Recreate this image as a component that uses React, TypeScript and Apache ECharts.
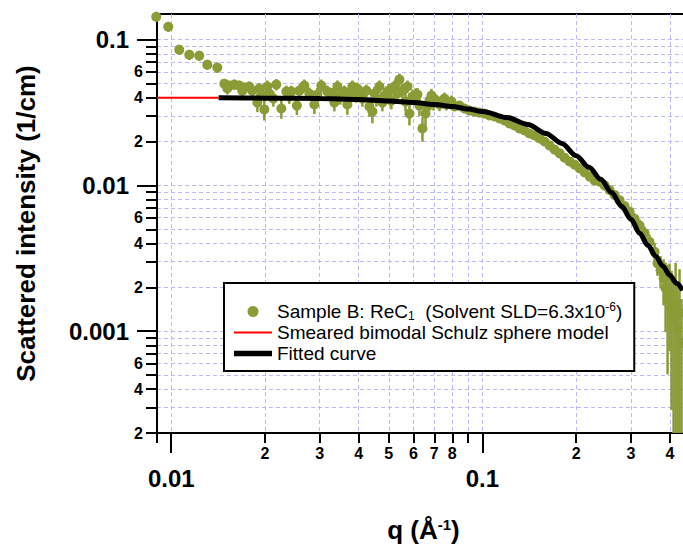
import React, { useEffect, useRef } from 'react';
import * as echarts from 'echarts';

const GREEN = '#8b9b36';
const FONT = '"Liberation Sans", Arial, Helvetica, sans-serif';

const X_MIN = 0.009;
const X_MAX = 0.5;
const Y_MIN = 0.0002;
const Y_MAX = 0.15;

// Measured data: q (1/Å), scattered intensity (1/cm), relative error
const qValues = [
  0.00895, 0.00978, 0.01061, 0.01143, 0.0123, 0.01306, 0.01406, 0.01481, 0.01537, 0.01595,
  0.01654, 0.01717, 0.01781, 0.01821, 0.01891, 0.01919, 0.01991, 0.02066, 0.02176, 0.02258,
  0.02343, 0.02431, 0.02533, 0.02677, 0.02778, 0.02883, 0.03036, 0.03174, 0.03294, 0.03418,
  0.03494, 0.036, 0.0368, 0.0382, 0.03934, 0.04022, 0.04113, 0.04236, 0.04332, 0.04429,
  0.04562, 0.04665, 0.04841, 0.04987, 0.05098, 0.05212, 0.05409, 0.05531, 0.05656, 0.05826,
  0.05956, 0.06091, 0.06272, 0.06415, 0.0656, 0.06755, 0.06959, 0.07115, 0.07274, 0.07438,
  0.07662, 0.07834, 0.08128, 0.08433, 0.08751, 0.09082, 0.09425, 0.09781, 0.1015, 0.1053,
  0.1093, 0.1134, 0.1177, 0.1221, 0.1267, 0.1315, 0.1365, 0.1416, 0.147, 0.1525,
  0.1583, 0.1642, 0.1704, 0.1769, 0.1835, 0.1905, 0.1976, 0.2051, 0.2128, 0.2209,
  0.2292, 0.2378, 0.2468, 0.2561, 0.2657, 0.2758, 0.2862, 0.297, 0.3082, 0.3198,
  0.3318, 0.3443, 0.3573, 0.365, 0.3735, 0.3819, 0.3875, 0.3933, 0.3992, 0.4051,
  0.4112, 0.4174, 0.4236, 0.4298, 0.4362,
  0.01514, 0.01692, 0.01948, 0.02036, 0.02128, 0.02395, 0.0258, 0.02947, 0.03343, 0.03735,
  0.03963, 0.04495, 0.0477, 0.0533, 0.0574, 0.06181, 0.06657, 0.06857, 0.07549, 0.0795,
];
const intensity = [
  0.1437, 0.1227, 0.0854, 0.0789, 0.0777, 0.0674, 0.0643, 0.0499, 0.0484, 0.0492,
  0.0484, 0.0469, 0.0477, 0.0447, 0.037, 0.0462, 0.0332, 0.0427, 0.0492, 0.0337,
  0.044, 0.044, 0.0353, 0.0484, 0.0427, 0.0359, 0.0484, 0.044, 0.042, 0.0477,
  0.0407, 0.044, 0.0359, 0.0477, 0.0414, 0.044, 0.0394, 0.0447, 0.0348, 0.0321,
  0.0394, 0.0477, 0.0414, 0.0447, 0.0382, 0.0477, 0.0532, 0.0447, 0.0376, 0.0311,
  0.0407, 0.0414, 0.0353, 0.0246, 0.0311, 0.0382, 0.037, 0.0382, 0.0359, 0.0376,
  0.0359, 0.0364, 0.0348, 0.0353, 0.0337, 0.0326, 0.0321, 0.0316, 0.0311, 0.0302,
  0.0297, 0.0288, 0.0279, 0.0266, 0.0258, 0.0246, 0.0238, 0.0227, 0.022, 0.021,
  0.02, 0.0188, 0.0176, 0.0166, 0.0155, 0.0146, 0.0139, 0.0131, 0.0123, 0.0115,
  0.0108, 0.0106, 0.01, 0.0093, 0.0086, 0.0079, 0.0072, 0.0066, 0.0059, 0.0053,
  0.0047, 0.0041, 0.0035, 0.00292, 0.00262, 0.00231, 0.00197, 0.00168, 0.00182, 0.00144,
  0.00123, 0.00155, 0.00105, 0.00133, 0.00083,
  0.0462, 0.0447, 0.042, 0.0477, 0.0394, 0.0407, 0.0447, 0.042, 0.037, 0.0427,
  0.0462, 0.0427, 0.037, 0.0427, 0.0477, 0.042, 0.0348, 0.0414, 0.0394, 0.0376,
];
const relError = [
  0.08, 0.08, 0.08, 0.08, 0.08, 0.08, 0.08, 0.08, 0.08, 0.08,
  0.08, 0.08, 0.08, 0.09, 0.14, 0.09, 0.16, 0.1, 0.09, 0.15,
  0.1, 0.1, 0.14, 0.1, 0.1, 0.14, 0.1, 0.1, 0.11, 0.1,
  0.12, 0.1, 0.15, 0.1, 0.11, 0.1, 0.12, 0.1, 0.15, 0.17,
  0.12, 0.1, 0.12, 0.11, 0.13, 0.1, 0.1, 0.11, 0.14, 0.17,
  0.12, 0.12, 0.15, 0.19, 0.17, 0.13, 0.12, 0.1, 0.1, 0.09,
  0.09, 0.08, 0.07, 0.07, 0.07, 0.06, 0.06, 0.06, 0.05, 0.05,
  0.05, 0.05, 0.05, 0.05, 0.05, 0.05, 0.05, 0.05, 0.05, 0.05,
  0.05, 0.05, 0.05, 0.05, 0.05, 0.05, 0.05, 0.05, 0.05, 0.06,
  0.06, 0.06, 0.06, 0.07, 0.07, 0.07, 0.08, 0.08, 0.09, 0.1,
  0.11, 0.12, 0.15, 0.18, 0.25, 0.35, 0.5, 0.7, 0.6, 0.8,
  0.9, 0.9, 1.0, 1.0, 1.0,
  0.09, 0.1, 0.1, 0.1, 0.12, 0.11, 0.1, 0.11, 0.13, 0.1,
  0.1, 0.11, 0.13, 0.11, 0.1, 0.11, 0.13, 0.11, 0.1, 0.1,
];

// Fitted curve
const fitQ = [
  0.0142, 0.02, 0.03, 0.04, 0.05, 0.06, 0.07, 0.08, 0.09, 0.1, 0.12, 0.14, 0.16, 0.18,
  0.2, 0.22, 0.24, 0.26, 0.28, 0.3, 0.32, 0.34, 0.36, 0.38, 0.4, 0.42, 0.44,
];
const fitI = [
  0.04, 0.0397, 0.0394, 0.0388, 0.0379, 0.037, 0.0359, 0.0348, 0.0334, 0.0321, 0.0292, 0.0262,
  0.0227, 0.0194, 0.016, 0.0133, 0.011, 0.00895, 0.00718, 0.00585, 0.00469, 0.00388, 0.00327,
  0.00279, 0.00242, 0.00213, 0.00191,
];

// Smeared model (visible part)
const smearQ = [0.009, 0.0142];
const smearI = [0.04, 0.04];

// Axis ticks
const xMinorTicks = [0.009, 0.02, 0.03, 0.04, 0.05, 0.06, 0.07, 0.08, 0.09, 0.2, 0.3, 0.4, 0.5];
const xMinorLabels = [0.02, 0.03, 0.04, 0.05, 0.06, 0.07, 0.08, 0.2, 0.3, 0.4];
const xMajorTicks = [0.01, 0.1];
const yMinorTicks = [
  0.0002, 0.0003, 0.0004, 0.0005, 0.0006, 0.0007, 0.0008, 0.0009,
  0.002, 0.003, 0.004, 0.005, 0.006, 0.007, 0.008, 0.009,
  0.02, 0.03, 0.04, 0.05, 0.06, 0.07, 0.08, 0.09,
];
const yMinorLabels = [0.0002, 0.0004, 0.0006, 0.002, 0.004, 0.006, 0.02, 0.04, 0.06];
const yMajorTicks = [0.001, 0.01, 0.1];

const SAMPLE = 'Sample B: ReC1 (Solvent SLD=6.3x10-6)';
const SMEARED = 'Smeared bimodal Schulz sphere model';
const FITTED = 'Fitted curve';

const leadDigit = (v: number) =>
  String(Math.round(v / Math.pow(10, Math.floor(Math.log10(v) + 1e-9))));
const majorLabel = (v: number) => (v < 0.005 ? '0.001' : v < 0.05 ? '0.01' : '0.1');

const GRIDLINE = { color: '#b8b8fa', width: 1, type: [4, 3] as any };
const AXIS_BLACK = { color: '#000', width: 2 };

export default function App() {
  const ref = useRef<HTMLDivElement>(null);

  useEffect(() => {
    if (!ref.current) return;
    const chart = echarts.init(ref.current, undefined, { renderer: 'svg' });

    const scatterData = qValues.map((q, i) => [q, intensity[i]]);
    const errData = qValues.map((q, i) => [
      q,
      Math.max(intensity[i] * (1 - relError[i]), Y_MIN),
      intensity[i] * (1 + relError[i]),
    ]);
    const fitData = fitQ.map((q, i) => [q, fitI[i]]);
    const smearData = smearQ.map((q, i) => [q, smearI[i]]);

    const gridRect = { left: 157, top: 14, right: -17, bottom: 112 };

    const labelBase = { fontFamily: FONT, fontWeight: 'bold' as const, color: '#000' };

    const legendText = (fs: number, lh: number) => ({
      fontFamily: FONT,
      fontSize: fs,
      color: '#000',
      lineHeight: lh,
    });

    const option: any = {
      animation: false,
      backgroundColor: '#fff',
      grid: [
        {
          ...gridRect,
          show: true,
          borderColor: '#000',
          borderWidth: 2,
          backgroundColor: 'transparent',
          containLabel: false,
          outerBoundsMode: 'none',
        },
        { ...gridRect, show: false, containLabel: false, outerBoundsMode: 'none' },
      ],
      xAxis: [
        {
          type: 'log',
          logBase: 10,
          gridIndex: 0,
          position: 'bottom',
          min: X_MIN,
          max: X_MAX,
          axisLine: { show: true, onZero: false, lineStyle: AXIS_BLACK },
          axisTick: {
            show: true,
            inside: false,
            length: 10,
            customValues: xMinorTicks,
            lineStyle: AXIS_BLACK,
          },
          axisLabel: {
            show: true,
            customValues: xMinorLabels,
            formatter: leadDigit,
            margin: 12,
            fontSize: 16,
            ...labelBase,
          },
          splitLine: { show: true, lineStyle: GRIDLINE },
          minorTick: { show: false },
          minorSplitLine: { show: false },
        },
        {
          type: 'log',
          logBase: 10,
          gridIndex: 1,
          position: 'bottom',
          min: X_MIN,
          max: X_MAX,
          axisLine: { show: false },
          axisTick: {
            show: true,
            inside: false,
            length: 20,
            customValues: xMajorTicks,
            lineStyle: AXIS_BLACK,
          },
          axisLabel: {
            show: true,
            customValues: xMajorTicks,
            formatter: (v: number) => (v < 0.05 ? '0.01' : '0.1'),
            margin: 33,
            fontSize: 24,
            ...labelBase,
          },
          splitLine: { show: true, lineStyle: GRIDLINE },
          name: '{a|q (Å}{s|-1}{a|)}',
          nameLocation: 'middle',
          nameGap: 84,
          nameTextStyle: {
            ...labelBase,
            fontSize: 26,
            padding: [0, 10, 0, 0],
            rich: {
              a: { ...labelBase, fontSize: 26, lineHeight: 26 },
              s: { ...labelBase, fontSize: 15, lineHeight: 15, verticalAlign: 'top' },
            },
          },
        },
      ],
      yAxis: [
        {
          type: 'log',
          logBase: 10,
          gridIndex: 0,
          position: 'left',
          min: Y_MIN,
          max: Y_MAX,
          axisLine: { show: true, onZero: false, lineStyle: AXIS_BLACK },
          axisTick: {
            show: true,
            inside: false,
            length: 11,
            customValues: yMinorTicks,
            lineStyle: AXIS_BLACK,
          },
          axisLabel: {
            show: true,
            customValues: yMinorLabels,
            formatter: leadDigit,
            margin: 14,
            fontSize: 16,
            ...labelBase,
          },
          splitLine: { show: true, lineStyle: GRIDLINE },
          minorTick: { show: false },
          minorSplitLine: { show: false },
        },
        {
          type: 'log',
          logBase: 10,
          gridIndex: 1,
          position: 'left',
          min: Y_MIN,
          max: Y_MAX,
          axisLine: { show: false },
          axisTick: {
            show: true,
            inside: false,
            length: 20,
            customValues: yMajorTicks,
            lineStyle: AXIS_BLACK,
          },
          axisLabel: {
            show: true,
            customValues: yMajorTicks,
            formatter: majorLabel,
            margin: 28,
            fontSize: 24,
            ...labelBase,
          },
          splitLine: { show: true, lineStyle: GRIDLINE },
          name: 'Scattered intensity (1/cm)',
          nameLocation: 'middle',
          nameRotate: 90,
          nameGap: 118,
          nameTextStyle: { ...labelBase, fontSize: 26 },
        },
      ],
      legend: {
        show: true,
        orient: 'vertical',
        left: 224,
        top: 283,
        padding: [18, 12, 7, 10],
        itemGap: 0,
        itemWidth: 38,
        itemHeight: 11,
        backgroundColor: '#fff',
        borderColor: '#000',
        borderWidth: 2,
        borderRadius: 0,
        selectedMode: false,
        itemStyle: { borderWidth: 0 },
        textStyle: {
          ...legendText(19, 21),
          rich: {
            t: legendText(19, 21),
            sub: { ...legendText(12, 12), verticalAlign: 'bottom' },
            sup: { ...legendText(12, 12), verticalAlign: 'top' },
          },
        },
        formatter: (name: string) => {
          if (name === SAMPLE) return '{t|Sample B: ReC}{sub|1}{t|  (Solvent SLD=6.3x10}{sup|-6}{t|)}';
          return '{t|' + name + '}';
        },
        data: [
          { name: SAMPLE, icon: 'circle' },
          { name: SMEARED, icon: 'path://M0,0H36V2H0Z' },
          { name: FITTED, icon: 'path://M0,0H36V5H0Z' },
        ],
      },
      series: [
        {
          type: 'custom',
          name: 'errors',
          xAxisIndex: 0,
          yAxisIndex: 0,
          data: errData,
          encode: { x: 0, y: [1, 2] },
          silent: true,
          renderItem: (_params: any, api: any) => {
            const q = api.value(0);
            const p1 = api.coord([q, api.value(1)]);
            const p2 = api.coord([q, api.value(2)]);
            return {
              type: 'line',
              shape: { x1: p1[0], y1: p1[1], x2: p2[0], y2: p2[1] },
              style: { stroke: GREEN, lineWidth: 2.5 },
            };
          },
        },
        {
          type: 'scatter',
          name: SAMPLE,
          xAxisIndex: 0,
          yAxisIndex: 0,
          data: scatterData,
          symbol: 'circle',
          symbolSize: 10,
          clip: false,
          itemStyle: { color: GREEN, borderWidth: 0, opacity: 1 },
        },
        {
          type: 'line',
          name: SMEARED,
          xAxisIndex: 0,
          yAxisIndex: 0,
          data: smearData,
          symbol: 'none',
          itemStyle: { color: '#ff0000' },
          lineStyle: { color: '#ff0000', width: 2 },
        },
        {
          type: 'line',
          name: FITTED,
          xAxisIndex: 0,
          yAxisIndex: 0,
          data: fitData,
          symbol: 'none',
          smooth: 0.3,
          smoothMonotone: 'x',
          itemStyle: { color: '#000' },
          lineStyle: { color: '#000', width: 5 },
        },
      ],
    };

    chart.setOption(option);
    return () => chart.dispose();
  }, []);

  return (
    <div
      ref={ref}
      style={{ position: 'absolute', left: 0, top: 0, width: 683, height: 545, background: '#fff' }}
    />
  );
}
